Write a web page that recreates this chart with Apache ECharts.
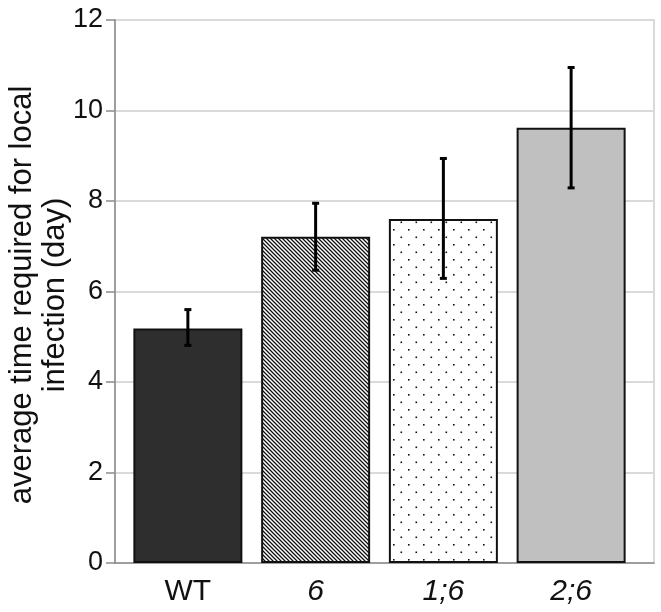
<!DOCTYPE html>
<html>
<head>
<meta charset="utf-8">
<script src="https://cdn.jsdelivr.net/npm/echarts@6/dist/echarts.min.js"></script>
<style>
  html, body { margin: 0; padding: 0; background: #ffffff; }
  #chart { width: 661px; height: 612px; }
</style>
</head>
<body>
<div id="chart"></div>
<script>
// ---- data ----
const categories = ['WT', '6', '1;6', '2;6'];
const meanDays = [5.18, 7.21, 7.60, 9.62];
const errorLower = [4.81, 6.47, 6.29, 8.29];
const errorUpper = [5.60, 7.95, 8.94, 10.95];
const yTicks = [0, 2, 4, 6, 8, 10, 12];
const italicCategories = ['6', '1;6', '2;6'];

// ---- patterns ----
function hatchPattern() {
  const s = 4;
  const c = document.createElement('canvas');
  c.width = s; c.height = s;
  const g = c.getContext('2d');
  g.fillStyle = '#ffffff';
  g.fillRect(0, 0, s, s);
  g.strokeStyle = '#111111';
  g.lineWidth = 1.3;
  g.beginPath();
  g.moveTo(-1, -1); g.lineTo(s + 1, s + 1);
  g.moveTo(-1, s - 1); g.lineTo(1, s + 1);
  g.moveTo(s - 1, -1); g.lineTo(s + 1, 1);
  g.stroke();
  return c;
}
function dotPattern() {
  const w = 15, h = 15;
  const c = document.createElement('canvas');
  c.width = w; c.height = h;
  const g = c.getContext('2d');
  g.fillStyle = '#ffffff';
  g.fillRect(0, 0, w, h);
  g.fillStyle = '#111111';
  g.fillRect(3, 4, 1.6, 1.6);
  g.fillRect(10.5, 11.5, 1.6, 1.6);
  return c;
}

const barFills = [
  '#2e2e2e',
  { image: hatchPattern(), repeat: 'repeat' },
  { image: dotPattern(), repeat: 'repeat' },
  '#c0c0c0'
];

const font = "'Liberation Sans', Arial, Helvetica, sans-serif";

const chart = echarts.init(document.getElementById('chart'), null, { renderer: 'canvas' });

const option = {
  backgroundColor: '#ffffff',
  animation: false,
  grid: [
    { left: 115, right: 7, top: 20, bottom: 49, outerBoundsMode: 'none', containLabel: false,
      show: true, borderColor: '#d9d9d9', borderWidth: 2, backgroundColor: 'transparent' },
    { left: 124, right: 26, top: 20, bottom: 49, outerBoundsMode: 'none', containLabel: false }
  ],
  xAxis: [
    {
      type: 'category', gridIndex: 0, data: categories,
      axisLine: { show: true, lineStyle: { color: '#8a8a8a', width: 1.5 } },
      axisTick: { show: false }, axisLabel: { show: false }, splitLine: { show: false }
    },
    {
      type: 'category', gridIndex: 1, data: categories,
      axisLine: { show: false }, axisTick: { show: false },
      axisLabel: {
        margin: 14,
        formatter: v => italicCategories.indexOf(v) >= 0 ? '{i|' + v + '}' : '{n|' + v + '}',
        rich: {
          n: { fontSize: 30, fontFamily: font, color: '#111111' },
          i: { fontSize: 30, fontFamily: font, fontStyle: 'italic', color: '#111111' }
        }
      }
    }
  ],
  yAxis: [
    {
      type: 'value', gridIndex: 0, min: yTicks[0], max: yTicks[yTicks.length - 1], interval: 2,
      name: 'average time required for local\ninfection (day)',
      nameLocation: 'middle', nameGap: 43, nameMoveOverlap: false,
      nameTextStyle: { fontSize: 31, fontFamily: font, color: '#111111', lineHeight: 33, padding: [0, 7, 0, 0] },
      axisLine: { show: true, lineStyle: { color: '#8a8a8a', width: 1.5 } },
      axisTick: { show: true, length: 9, lineStyle: { color: '#8a8a8a', width: 1.5 } },
      axisLabel: { margin: 12, fontSize: 27, fontFamily: font, color: '#111111' },
      splitLine: { show: true, lineStyle: { color: '#d9d9d9', width: 2 } }
    },
    {
      type: 'value', gridIndex: 1, min: yTicks[0], max: yTicks[yTicks.length - 1], interval: 2,
      show: false
    }
  ],
  series: [
    {
      type: 'bar', xAxisIndex: 1, yAxisIndex: 1, barWidth: 109,
      data: meanDays.map((v, i) => ({
        value: v,
        itemStyle: { color: barFills[i], borderColor: '#111111', borderWidth: 2 }
      })),
      z: 2
    },
    {
      type: 'custom', xAxisIndex: 1, yAxisIndex: 1, z: 5,
      data: categories.map((c, i) => [i, errorLower[i], errorUpper[i]]),
      encode: { x: 0, y: [1, 2] },
      renderItem: function (params, api) {
        const x = api.value(0);
        const pHi = api.coord([x, api.value(2)]);
        const pLo = api.coord([x, api.value(1)]);
        const hw = 3.5;
        const st = { stroke: '#000000', lineWidth: 3 };
        return {
          type: 'group',
          children: [
            { type: 'line', shape: { x1: pHi[0], y1: pHi[1], x2: pLo[0], y2: pLo[1] }, style: st },
            { type: 'line', shape: { x1: pHi[0] - hw, y1: pHi[1], x2: pHi[0] + hw, y2: pHi[1] }, style: st },
            { type: 'line', shape: { x1: pLo[0] - hw, y1: pLo[1], x2: pLo[0] + hw, y2: pLo[1] }, style: st }
          ]
        };
      }
    }
  ]
};

chart.setOption(option);
</script>
</body>
</html>
